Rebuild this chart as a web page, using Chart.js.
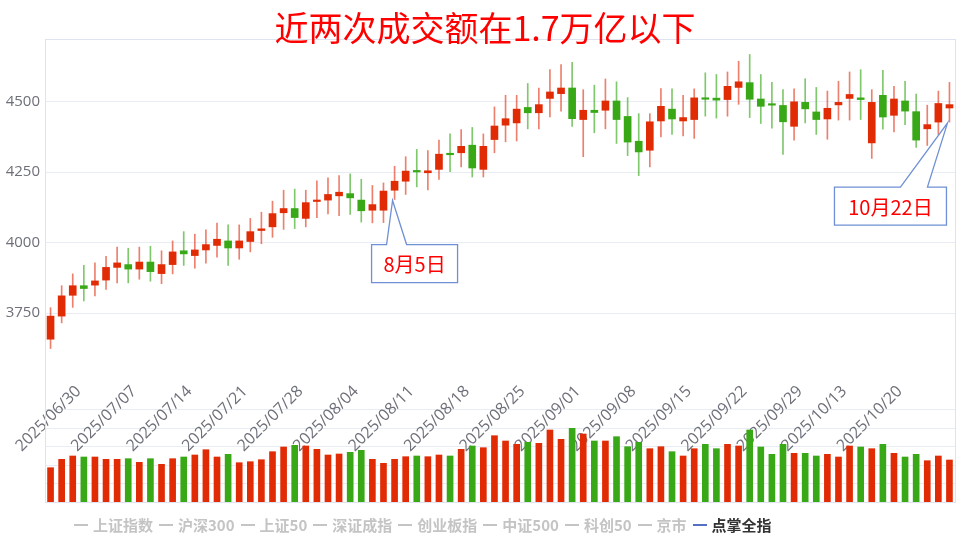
<!DOCTYPE html>
<html><head><meta charset="utf-8">
<script src="https://cdn.jsdelivr.net/npm/chart.js@4.4.1/dist/chart.umd.min.js"></script>
<style>
html,body{margin:0;padding:0;background:#fff;}
#wrap{position:relative;width:967px;height:542px;overflow:hidden;}
#legend{position:absolute;left:74px;top:515px;display:flex;gap:6px;font:bold 15px "Noto Sans CJK SC",sans-serif;color:#c4c4c4;white-space:nowrap;line-height:20px;}
.item{display:flex;align-items:center;}
.item i{display:inline-block;width:14px;height:2px;background:#c4c4c4;margin-right:5px;}
.item.on{color:#333;}
.item.on i{background:#5470c6;}
</style></head><body>
<div id="wrap"><canvas id="c" width="967" height="542"></canvas><div id="legend"></div></div>
<script>
const dates = ['2025/06/30','2025/07/01','2025/07/02','2025/07/03','2025/07/04','2025/07/07','2025/07/08','2025/07/09','2025/07/10','2025/07/11',
'2025/07/14','2025/07/15','2025/07/16','2025/07/17','2025/07/18','2025/07/21','2025/07/22','2025/07/23','2025/07/24','2025/07/25',
'2025/07/28','2025/07/29','2025/07/30','2025/07/31','2025/08/01','2025/08/04','2025/08/05','2025/08/06','2025/08/07','2025/08/08',
'2025/08/11','2025/08/12','2025/08/13','2025/08/14','2025/08/15','2025/08/18','2025/08/19','2025/08/20','2025/08/21','2025/08/22',
'2025/08/25','2025/08/26','2025/08/27','2025/08/28','2025/08/29','2025/09/01','2025/09/02','2025/09/03','2025/09/04','2025/09/05',
'2025/09/08','2025/09/09','2025/09/10','2025/09/11','2025/09/12','2025/09/15','2025/09/16','2025/09/17','2025/09/18','2025/09/19',
'2025/09/22','2025/09/23','2025/09/24','2025/09/25','2025/09/26','2025/09/29','2025/09/30','2025/10/09','2025/10/10','2025/10/13',
'2025/10/14','2025/10/15','2025/10/16','2025/10/17','2025/10/20','2025/10/21','2025/10/22','2025/10/23','2025/10/24','2025/10/27',
'2025/10/28','2025/10/29'];
const tickDates = ['2025/06/30','2025/07/07','2025/07/14','2025/07/21','2025/07/28','2025/08/04','2025/08/11','2025/08/18','2025/08/25',
'2025/09/01','2025/09/08','2025/09/15','2025/09/22','2025/09/29','2025/10/13','2025/10/20'];
const openVals = [3657,3739,3813,3847,3849,3867,3912,3922,3906,3931,
3890,3922,3971,3954,3974,3990,4006,3981,4004,4043,
4056,4106,4121,4086,4146,4151,4166,4174,4151,4115,
4115,4186,4218,4256,4248,4260,4316,4319,4346,4260,
4366,4417,4425,4480,4461,4512,4529,4549,4437,4470,
4470,4503,4448,4360,4328,4432,4474,4432,4437,4514,
4513,4508,4551,4568,4510,4493,4487,4413,4498,4464,
4439,4489,4512,4514,4354,4523,4452,4503,4465,4404,
4428,4478];
const closeVals = [3739,3811,3847,3837,3864,3912,3928,3906,3931,3897,
3922,3967,3960,3974,3993,4012,3981,4006,4039,4049,
4103,4121,4089,4142,4151,4171,4179,4159,4113,4135,
4183,4218,4254,4251,4255,4314,4312,4342,4265,4342,
4414,4440,4474,4461,4490,4535,4549,4440,4470,4462,
4503,4437,4357,4322,4429,4484,4439,4444,4514,4509,
4506,4555,4571,4509,4484,4488,4429,4500,4475,4437,
4477,4498,4526,4508,4498,4446,4510,4467,4364,4419,
4494,4490];
const highVals = [3769,3847,3889,3919,3928,3951,3984,3980,3984,3987,
3971,4006,4039,4030,4045,4069,4063,4063,4086,4108,
4147,4186,4190,4186,4219,4230,4238,4244,4225,4203,
4212,4271,4305,4331,4327,4364,4386,4401,4409,4386,
4482,4523,4523,4565,4549,4614,4632,4640,4543,4559,
4581,4571,4515,4458,4458,4547,4546,4523,4546,4603,
4597,4606,4644,4668,4597,4569,4543,4546,4582,4551,
4538,4573,4606,4614,4543,4612,4555,4573,4527,4488,
4538,4569];
const lowVals = [3624,3715,3770,3793,3811,3834,3857,3857,3870,3863,
3854,3889,3919,3909,3927,3948,3919,3941,3967,3996,
4019,4047,4050,4056,4089,4102,4096,4100,4073,4070,
4071,4153,4171,4198,4187,4224,4252,4269,4233,4233,
4319,4358,4361,4404,4404,4446,4467,4413,4305,4390,
4404,4352,4309,4238,4269,4375,4384,4379,4370,4449,
4442,4449,4491,4444,4423,4406,4313,4364,4425,4384,
4367,4435,4435,4437,4299,4403,4393,4419,4338,4345,
4384,4428];
// 成交额（亿元）
const volumeVals = [12350,15370,16560,16200,16200,15370,15370,15590,14290,15590,
13570,15590,16200,16920,18830,16200,17170,14150,14510,15230,
18110,19800,20410,20160,18970,16920,17280,17890,18610,15370,
13930,15370,16310,16560,16310,16920,16560,18970,20160,19550,
23870,21960,20770,21490,21130,25920,22570,26530,24480,21960,
21960,23510,19910,21490,19190,19910,18110,16560,19190,20770,
19190,20770,20160,25920,19800,17170,20770,17530,17530,16560,
17170,16200,20160,19800,19190,20770,17530,16200,17170,14870,
16560,15120];
const priceTicks = [3750,4000,4250,4500];
const volumeGrid = [6660,13320,19980,26640,33300];
const legendNames = ['上证指数','沪深300','上证50','深证成指','创业板指','中证500','科创50','京市','点掌全指'];
const activeSeries = '点掌全指';
const titleText = '近两次成交额在1.7万亿以下';
const notes = [
  {index: 31, text: '8月5日', box: [-21, 44, 86, 38], gap: [-6, 14]},
  {index: 81, text: '10月22日', box: [-113, 64, 112, 38], gap: [-47, -20]}
];

const RED = '#e12b05', GREEN = '#38a817';
const RED_W = 'rgba(228,60,30,0.65)', GREEN_W = 'rgba(60,170,30,0.65)';
const isUp = openVals.map((o, i) => closeVals[i] >= o);

const lg = document.getElementById('legend');
legendNames.forEach(n => {
  const s = document.createElement('span');
  s.className = 'item' + (n === activeSeries ? ' on' : '');
  s.innerHTML = '<i></i>' + n;
  lg.appendChild(s);
});

const overlay = {
  id: 'overlay',
  beforeDatasetsDraw(chart) {
    const {ctx, chartArea: a} = chart;
    ctx.save();
    ctx.strokeStyle = '#dde3f0';
    ctx.lineWidth = 1;
    ctx.strokeRect(Math.round(a.left) + 0.5, Math.round(a.top) + 0.5, Math.round(a.right - a.left), Math.round(a.bottom - a.top));
    ctx.restore();
  },
  afterDraw(chart) {
    const {ctx} = chart;
    const xs = chart.scales.x, ys = chart.scales.y;
    ctx.save();
    ctx.fillStyle = '#ff0000';
    ctx.font = '34px "Noto Sans CJK SC"';
    ctx.textAlign = 'center';
    ctx.textBaseline = 'middle';
    ctx.fillText(titleText, 485, 28);
    notes.forEach(n => {
      const tx = xs.getPixelForValue(n.index) - 2;
      const ty = ys.getPixelForValue(lowVals[n.index]) + 1;
      const L = tx + n.box[0], T = ty + n.box[1], W = n.box[2], H = n.box[3];
      ctx.beginPath();
      ctx.moveTo(tx + n.gap[0], T);
      ctx.lineTo(L, T); ctx.lineTo(L, T + H); ctx.lineTo(L + W, T + H); ctx.lineTo(L + W, T);
      ctx.lineTo(tx + n.gap[1], T); ctx.lineTo(tx, ty); ctx.closePath();
      ctx.fillStyle = '#fff';
      ctx.fill();
      ctx.strokeStyle = '#6f90d4';
      ctx.lineWidth = 1.3;
      ctx.stroke();
      ctx.fillStyle = '#ff0000';
      ctx.font = '20px "Noto Sans CJK SC"';
      ctx.fillText(n.text, L + W / 2, T + H / 2 + 1);
    });
    ctx.restore();
  }
};

new Chart(document.getElementById('c'), {
  type: 'bar',
  data: {
    labels: dates,
    datasets: [
      {
        label: 'wick', yAxisID: 'y', order: 3, grouped: false,
        data: lowVals.map((l, i) => [l, highVals[i]]),
        backgroundColor: isUp.map(u => u ? RED_W : GREEN_W),
        barThickness: 1, minBarLength: 1
      },
      {
        label: 'body', yAxisID: 'y', order: 2, grouped: false,
        data: openVals.map((o, i) => [o, closeVals[i]]),
        backgroundColor: isUp.map(u => u ? RED : GREEN),
        barThickness: 7, minBarLength: 1.5
      },
      {
        label: '成交额', yAxisID: 'y2', order: 1, grouped: false,
        data: volumeVals,
        backgroundColor: isUp.map(u => u ? RED : GREEN),
        barThickness: 6
      }
    ]
  },
  options: {
    responsive: false,
    devicePixelRatio: 1,
    animation: false,
    layout: {padding: {left: 0, top: 39, right: 12, bottom: 40}},
    plugins: {legend: {display: false}, tooltip: {enabled: false}, title: {display: false}},
    scales: {
      x: {
        type: 'category',
        position: {y: 3505},
        offset: true,
        grid: {display: false, drawTicks: false},
        border: {display: false},
        ticks: {
          autoSkip: false, minRotation: 45, maxRotation: 45, labelOffset: 28, padding: 0,
          color: '#6e7079', font: {family: 'Open Sans', size: 16},
          callback: function (v) { const d = this.getLabelForValue(v); return tickDates.includes(d) ? d : ''; }
        },
        afterFit: s => { s.height = 0; s.paddingLeft = 0; s.paddingRight = 0; s.paddingTop = 0; s.paddingBottom = 0; }
      },
      y: {
        position: 'left', min: 3079, max: 4723,
        afterBuildTicks: s => { s.ticks = priceTicks.map(v => ({value: v})); },
        afterFit: s => { s.width = 45; },
        grid: {color: '#e8ecf4', drawTicks: false},
        border: {display: false},
        ticks: {color: '#6e7079', font: {family: 'Open Sans', size: 15}, padding: 5, callback: v => String(v)}
      },
      y2: {
        position: 'right', min: 0, max: 166680,
        afterBuildTicks: s => { s.ticks = volumeGrid.map(v => ({value: v})); },
        afterFit: s => { s.width = 0; },
        grid: {color: '#e8ecf4', drawTicks: false},
        border: {display: false},
        ticks: {display: false}
      }
    }
  },
  plugins: [overlay]
});
</script>
</body></html>
